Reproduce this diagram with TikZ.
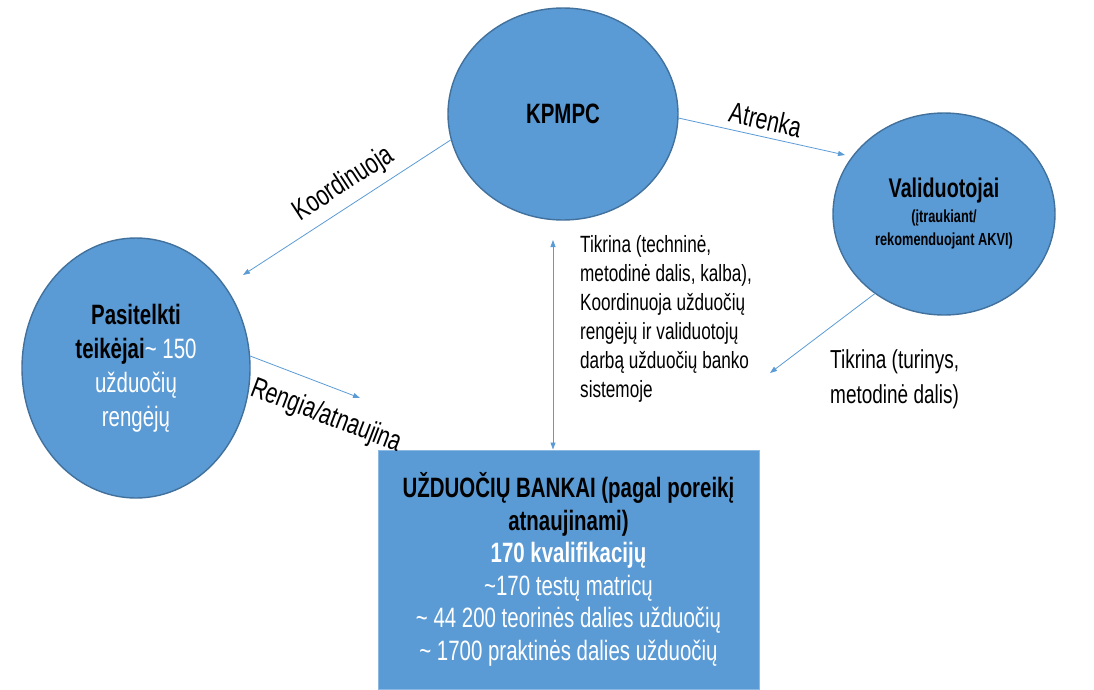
\documentclass[tikz,border=0pt]{standalone}
\usepackage{fontspec}
\setmainfont[FakeStretch=0.73]{Liberation Sans}
\usetikzlibrary{shapes.geometric,arrows.meta}
\definecolor{fillblue}{RGB}{91,155,213}
\definecolor{lineblue}{RGB}{65,113,156}
\newcommand{\fs}[2]{\fontsize{#1}{#2}\selectfont}

\begin{document}
\begin{tikzpicture}[x=1pt, y=-1pt, >={Triangle[length=7pt,width=5pt]},
    main node/.style={ellipse, draw=lineblue, line width=1.4pt, fill=fillblue, inner sep=0pt, align=center},
    link/.style={->, color=fillblue, line width=0.8pt}]
\useasboundingbox (0,0) rectangle (1094,689);

  \node[main node, minimum width=230, minimum height=212, font=\fs{28}{30}\bfseries] (1) at (563,114) {KPMPC};
  \node[main node, minimum width=222, minimum height=202, font=\fs{17.5}{23}\bfseries] (2) at (944,214)
    {{\fs{27}{30}Validuotojai}\\[2pt] (įtraukiant/\\ rekomenduojant AKVI)};
  \node[main node, minimum width=228, minimum height=260, font=\fs{28}{34}, text=white] (3) at (136,368)
    {\textcolor{black}{\bfseries Pasitelkti}\\ \textcolor{black}{\bfseries teikėjai}\textasciitilde{} 150\\ užduočių\\ rengėjų};
  \node[draw=fillblue!70!white, line width=1pt, fill=fillblue, minimum width=381, minimum height=239,
    inner sep=0pt, align=center, text=white, font=\fs{28}{32.5}] (4) at (568.5,569.5)
    {\textcolor{black}{\bfseries UŽDUOČIŲ BANKAI (pagal poreikį}\\
     \textcolor{black}{\bfseries atnaujinami)}\\
     {\bfseries 170 kvalifikacijų}\\
     \textasciitilde170 testų matricų\\
     \textasciitilde{} 44 200 teorinės dalies užduočių\\
     \textasciitilde{} 1700 praktinės dalies užduočių};

  % free ends of the arrows
  \coordinate (a1) at (243,275);
  \coordinate (a2) at (845,155);
  \coordinate (a3) at (770,373);
  \coordinate (a4) at (360,398);
  \coordinate (a5) at (553,240);

  \path[link, every node/.style={font=\fs{29}{30}, text=black, sloped}]
    (1.193) edge node [above=4pt, pos=0.46] {Koordinuoja} (a1)
    (1.-2) edge node [above=3pt, pos=0.5] {Atrenka} (a2)
    (2.229) edge (a3)
    (3.6) edge node [below=12pt, pos=0.79] {Rengia/atnaujina} (a4);
  \draw[link, <->] (a5) -- (a5 |- 4.north);

  \node[anchor=north west, inner sep=0pt, align=left, font=\fs{23.5}{29}] (t1) at (580,235)
    {Tikrina (techninė,\\ metodinė dalis, kalba),\\ Koordinuoja užduočių\\ rengėjų ir validuotojų\\ darbą užduočių banko\\ sistemoje};
  \node[anchor=north west, inner sep=0pt, align=left, font=\fs{26}{35}] (t2) at (830,349)
    {Tikrina (turinys,\\ metodinė dalis)};
\end{tikzpicture}
\end{document}
